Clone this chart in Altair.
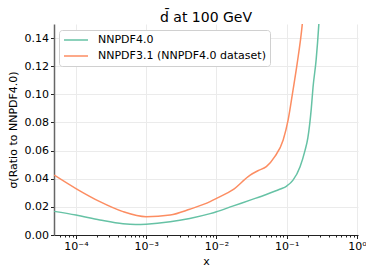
import altair as alt
import pandas as pd

series = ["NNPDF4.0", "NNPDF3.1 (NNPDF4.0 dataset)"]
colors = ["#66c2a5", "#fc8d62"]

green_x = [4.9e-5, 1e-4, 2.19e-4, 4.68e-4, 7.08e-4, 1e-3, 2.19e-3, 4.17e-3, 8.13e-3,
           1e-2, 1.7e-2, 3.02e-2, 5.13e-2, 7.94e-2, 0.1, 0.123, 0.155, 0.182, 0.2,
           0.224, 0.237, 0.263, 0.286, 0.295]
green_y = [0.0168, 0.0142, 0.0107, 0.0080, 0.0075, 0.0077, 0.0094, 0.0118, 0.0152,
           0.0165, 0.0205, 0.0248, 0.0288, 0.0325, 0.0348, 0.039, 0.0486, 0.060, 0.069,
           0.090, 0.105, 0.125, 0.149, 0.160]

orange_x = [4.9e-5, 1e-4, 2.19e-4, 4.68e-4, 1e-3, 2.19e-3, 4.17e-3, 8.13e-3, 1e-2,
            1.7e-2, 3.02e-2, 3.89e-2, 5.13e-2, 6.76e-2, 8.91e-2, 0.105, 0.123, 0.141,
            0.166, 0.174]
orange_y = [0.0426, 0.033, 0.0237, 0.0166, 0.0130, 0.0142, 0.0183, 0.0237, 0.026,
            0.032, 0.0426, 0.0457, 0.0486, 0.0557, 0.0675, 0.082, 0.103, 0.122,
            0.149, 0.160]

x_major = [1e-4, 1e-3, 1e-2, 1e-1, 1.0]
x_minor = [6e-5, 7e-5, 8e-5, 9e-5,
           2e-4, 3e-4, 4e-4, 5e-4, 6e-4, 7e-4, 8e-4, 9e-4,
           2e-3, 3e-3, 4e-3, 5e-3, 6e-3, 7e-3, 8e-3, 9e-3,
           2e-2, 3e-2, 4e-2, 5e-2, 6e-2, 7e-2, 8e-2, 9e-2,
           0.2, 0.3, 0.4, 0.5, 0.6, 0.7, 0.8, 0.9]
y_ticks = [0.0, 0.02, 0.04, 0.06, 0.08, 0.10, 0.12, 0.14]

df = pd.concat([
    pd.DataFrame({"x": green_x, "y": green_y, "s": series[0], "o": 0}),
    pd.DataFrame({"x": orange_x, "y": orange_y, "s": series[1], "o": 1}),
])
minor_df = pd.DataFrame({"x": x_minor})

FONT = "DejaVu Sans"
xscale = alt.Scale(type="log", domain=[4.87e-5, 1.035], nice=False)

label_expr = ("datum.value < 0.0005 ? '10⁻⁴' : datum.value < 0.005 ? '10⁻³' : "
              "datum.value < 0.05 ? '10⁻²' : datum.value < 0.5 ? '10⁻¹' : '10⁰'")

lines = alt.Chart(df).mark_line(clip=True, strokeWidth=1.5, interpolate="monotone").encode(
    x=alt.X("x:Q", scale=xscale,
            axis=alt.Axis(values=x_major, labelExpr=label_expr, title="x", grid=True,
                          gridColor="#ebebeb", tickSize=3.5, tickColor="#222",
                          domainColor="#222", labelFontSize=11, titleFontSize=11,
                          titleFontWeight="normal", labelColor="#000", titleColor="#000",
                          labelFont=FONT, titleFont=FONT, titlePadding=4, orient="bottom")),
    y=alt.Y("y:Q", scale=alt.Scale(domain=[0, 0.15], nice=False, zero=True),
            axis=alt.Axis(values=y_ticks, format=".2f", title="σ(Ratio to NNPDF4.0)",
                          grid=True, gridColor="#ebebeb", tickSize=3.5, tickColor="#222",
                          domainColor="#666", domainWidth=1.5, labelFontSize=11,
                          titleFontSize=11, titleFontWeight="normal", labelColor="#000",
                          titleColor="#000", labelFont=FONT, titleFont=FONT,
                          titlePadding=6)),
    color=alt.Color("s:N", scale=alt.Scale(domain=series, range=colors),
                    legend=alt.Legend(title=None, orient="none", legendX=5, legendY=6,
                                      fillColor="white", strokeColor="#d0d0d0",
                                      cornerRadius=3, padding=4, symbolType="stroke",
                                      symbolSize=576, symbolStrokeWidth=1.5,
                                      clipHeight=12, labelFontSize=11, labelFont=FONT,
                                      labelColor="#000", rowPadding=4, labelOffset=9,
                                      labelLimit=400)),
    order="o:Q",
)

minor = alt.Chart(minor_df).mark_point(opacity=0).encode(
    x=alt.X("x:Q", scale=xscale,
            axis=alt.Axis(values=x_minor, labels=False, grid=False, tickSize=2,
                          tickColor="#222", domain=False, title=None, orient="bottom")),
)

chart = alt.layer(lines, minor).resolve_axis(x="independent").properties(
    width=304, height=211,
    title=alt.Title("d̄ at 100 GeV", fontSize=14, font=FONT, fontWeight="normal",
                    color="#000", anchor="middle", offset=-1),
    autosize=alt.AutoSizeParams(type="none"),
    padding={"left": 46, "top": 16, "right": 8, "bottom": 33},
).configure_view(stroke=None)

chart.save("out.html", embed_options={"renderer": "svg", "actions": False})
